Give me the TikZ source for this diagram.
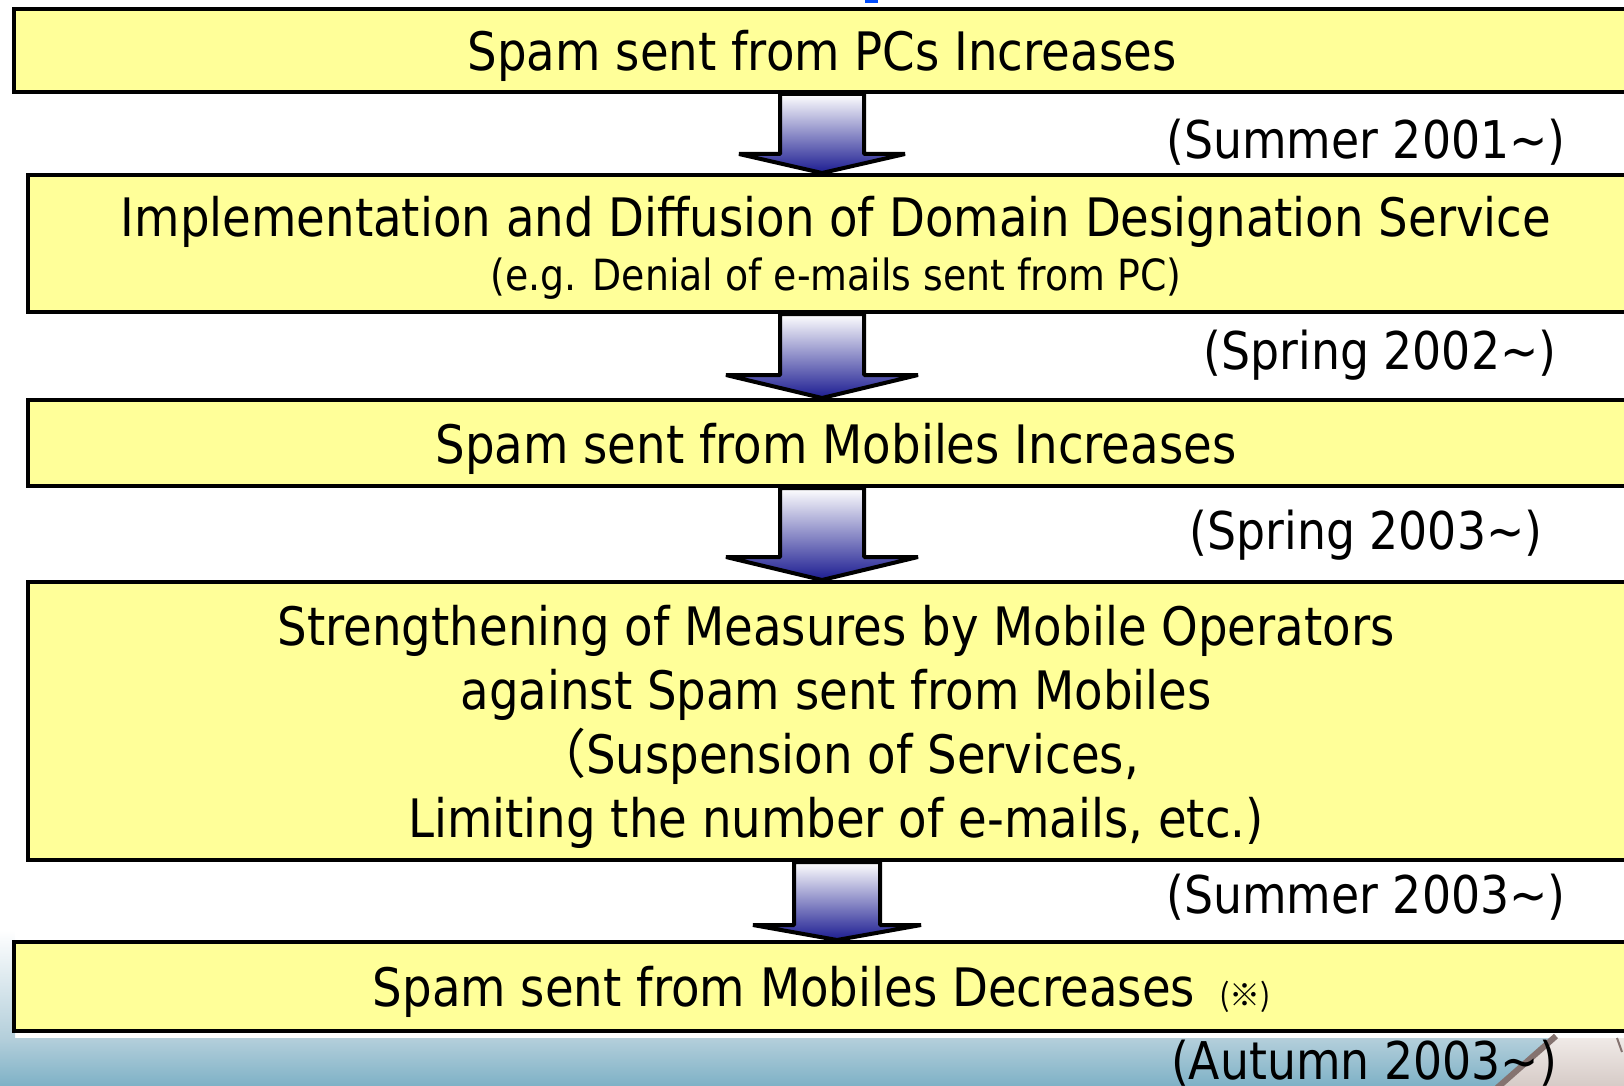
\documentclass[tikz,border=0pt]{standalone}
\usepackage{fontspec}
\setmainfont[FakeStretch=0.88]{DejaVu Sans}
\newfontfamily\cjkfont{Noto Sans CJK JP}
\definecolor{boxyellow}{RGB}{255,255,153}
\definecolor{arrownavy}{RGB}{28,28,145}
\definecolor{bandtop}{RGB}{180,207,219}
\definecolor{bandbottom}{RGB}{126,177,198}
\definecolor{desklight}{RGB}{240,234,231}
\definecolor{deskdark}{RGB}{214,203,199}
\definecolor{penbrown}{RGB}{133,115,112}

\begin{document}
\begin{tikzpicture}[x=0.5pt, y=-0.5pt,
  stage/.style = {draw, line width=2pt, fill=boxyellow, minimum width=808pt, align=center, inner sep=0pt, text depth=0pt, font=\fontsize{26.5}{32}\selectfont},
  period/.style = {font=\fontsize{26}{30}\selectfont},
  flow/.style = {draw, line width=2pt, line join=bevel, top color=white, bottom color=arrownavy}]
          \useasboundingbox (0,0) rectangle (1624,1086);
          % band at the bottom of the slide
          \shade[top color=white, bottom color=bandtop] (0,930) rectangle (15,1038);
          \shade[top color=bandtop, bottom color=bandbottom] (0,1038) rectangle (1624,1086);
          \shade[top color=desklight, bottom color=deskdark] (1553,1038) -- (1624,1038) -- (1624,1086) -- (1500,1086) -- cycle;
          \draw[line width=3pt, penbrown] (1497,1088) -- (1556,1036);
          \draw[line width=1pt, penbrown] (1617,1038) -- (1622,1052);
          \fill[blue!70!cyan] (865,0) rectangle (878,3);
          % stages
          \node[stage, minimum height=41.5pt] (pcs) at (822,50.5) {Spam sent from PCs Increases};
          \node[stage, minimum height=68.5pt, font=\fontsize{26.5}{27}\selectfont] (domain) at (836,243.5) {Implementation and Diffusion of Domain Designation Service\\{\fontsize{21.5}{24}\selectfont (e.g. Denial of e-mails sent from PC)}};
          \node[stage, minimum height=43pt] (mobiles) at (836,443) {Spam sent from Mobiles Increases};
          \node[stage, minimum height=139pt] (measures) at (836,721) {Strengthening of Measures by Mobile Operators\\against Spam sent from Mobiles\\{\cjkfont （}Suspension of Services,\\Limiting the number of e-mails, etc.)};
          \node[stage, minimum height=44.5pt] (decrease) at (822,986.5) {Spam sent from Mobiles Decreases\hspace{12pt}{\cjkfont\fontsize{15.5}{16}\selectfont (※)}};
          % periods
          \node[period] (summer01) at (1366,142) {(Summer 2001∼)};
          \node[period] (spring02) at (1380,355) {(Spring 2002∼)};
          \node[period] (spring03) at (1366,535) {(Spring 2003∼)};
          \node[period] (summer03) at (1366,897) {(Summer 2003∼)};
          \node[period] (autumn03) at (1364,1063) {(Autumn 2003∼)};
          % block arrows
          \foreach \src/\dst/\cx/\sw/\hw/\hy in {pcs/domain/822/42/83/154, domain/mobiles/822/42/96/375, mobiles/measures/822/42/96/557, measures/decrease/837/43/84/925}{
            \fill[white, yshift=-3pt] (\cx-\hw,\hy) -- (\cx,0 |- \dst.north) -- (\cx+\hw,\hy) -- cycle;
            \path[flow] (\cx-\sw,0 |- \src.south) -- (\cx-\sw,\hy) -- (\cx-\hw,\hy) -- (\cx,0 |- \dst.north) -- (\cx+\hw,\hy) -- (\cx+\sw,\hy) -- (\cx+\sw,0 |- \src.south) -- cycle;
          }
        \end{tikzpicture}
\end{document}
